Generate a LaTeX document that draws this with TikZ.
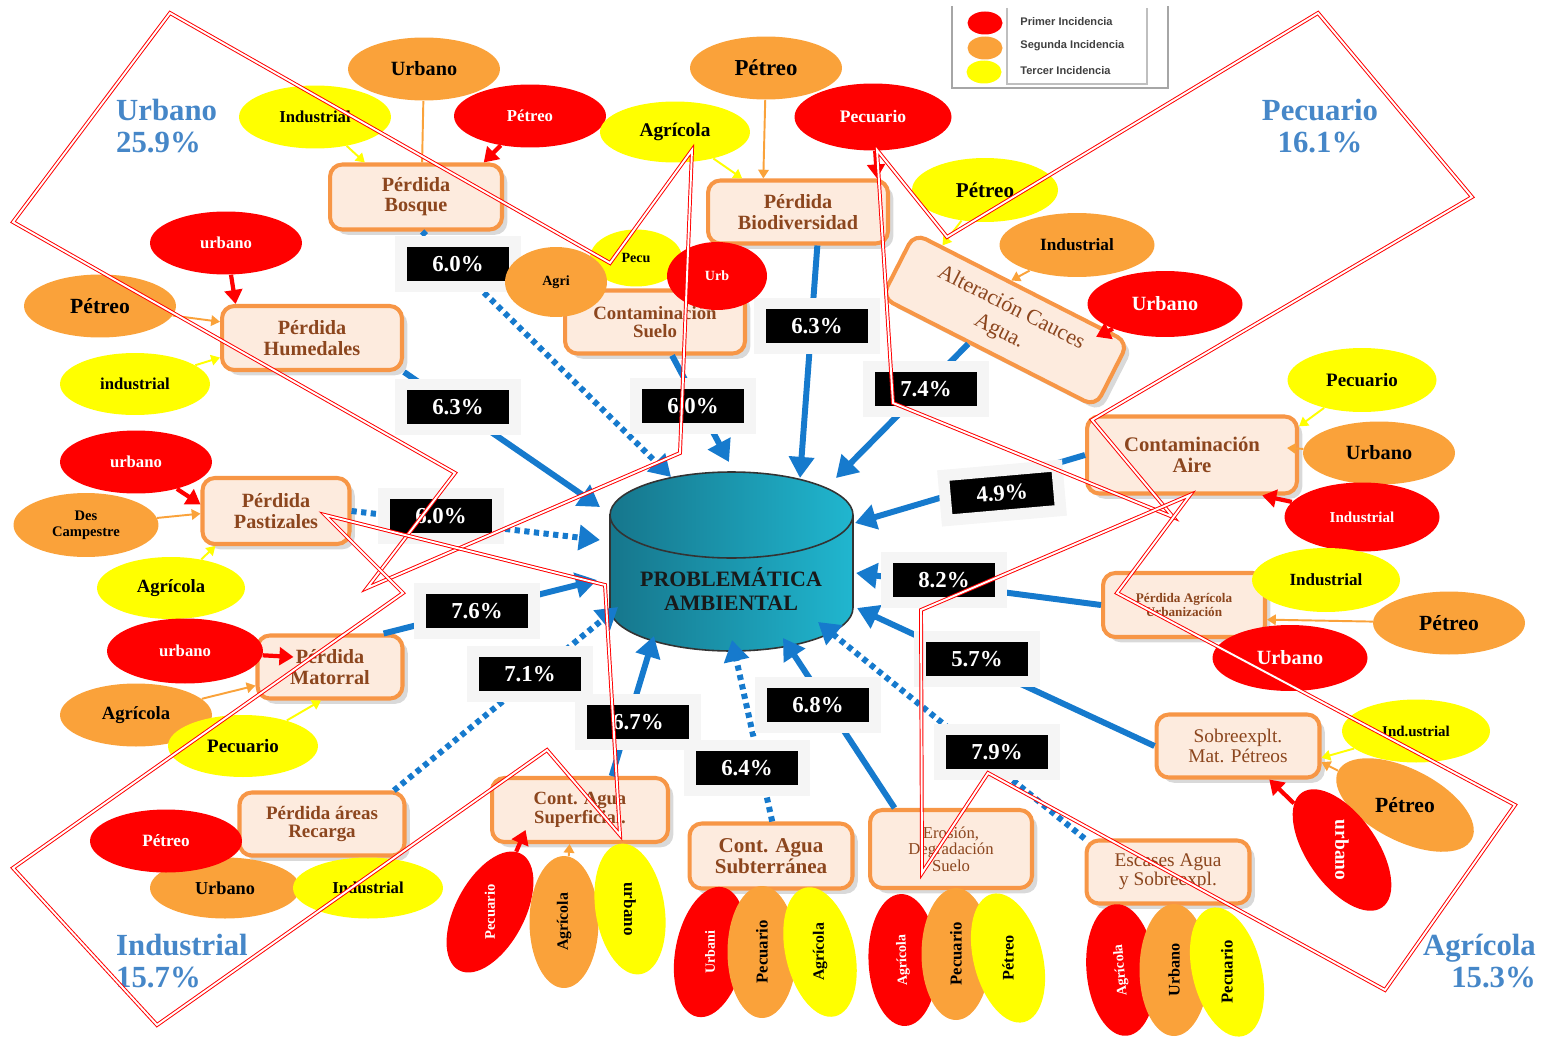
\documentclass[tikz,border=0pt]{standalone}
\usepackage{fontspec}
\setmainfont{Liberation Serif}
\newfontfamily\legfont{Liberation Sans}
\usepackage{graphicx}
\usetikzlibrary{shapes.geometric,arrows.meta,shadows,calc}

\definecolor{rojoE}{RGB}{255,0,0}
\definecolor{naranjaE}{RGB}{250,162,58}
\definecolor{amarilloE}{RGB}{255,255,0}
\definecolor{bordeC}{RGB}{247,150,70}
\definecolor{fondoC}{RGB}{253,235,222}
\definecolor{cafe}{RGB}{140,70,30}
\definecolor{azulF}{RGB}{22,122,205}
\definecolor{azulT}{RGB}{70,135,200}
\definecolor{cilO}{RGB}{22,118,140}
\definecolor{cilC}{RGB}{32,182,207}

\newcommand{\tam}[1]{\fontsize{#1}{#1}\selectfont}

\tikzset{
  caja/.style={draw=bordeC, line width=2.3pt, rounded corners=7pt, fill=fondoC, text=cafe,
    align=center, inner sep=1pt, font=\bfseries\tam{11.5},
    drop shadow={shadow xshift=3pt, shadow yshift=-3pt, opacity=0.3}},
  elip/.style={ellipse, inner sep=0pt, minimum width=3.04cm, minimum height=1.26cm, align=center},
  rojo/.style={elip, fill=rojoE, text=white, font=\bfseries\tam{9.5}},
  naranja/.style={elip, fill=naranjaE, text=black, font=\bfseries\tam{11.5}},
  amarillo/.style={elip, fill=amarilloE, text=black, font=\bfseries\tam{9.5}},
  vert/.style={minimum width=2.64cm, minimum height=1.38cm},
  pct/.style={fill=black, draw=black!4, line width=6.5pt, text=white, inner sep=0pt,
    minimum width=2.28cm, minimum height=0.9cm, font=\bfseries\tam{13}},
  flujo/.style={draw=azulF, line width=3.4pt, -{Triangle[length=12pt,width=14pt]}},
  punteado/.style={flujo, dash pattern=on 3pt off 2.5pt},
  flR/.style={draw=rojoE, line width=2.4pt, -{Triangle[length=8pt,width=10pt]}},
  flN/.style={draw=naranjaE, line width=1.1pt, -{Triangle[length=5pt,width=6pt]}},
  flA/.style={draw=amarilloE, line width=1.1pt, -{Triangle[length=5pt,width=6pt]}},
  etiq/.style={text=azulT, font=\bfseries\fontsize{17.5}{18.5}\selectfont},
  leyenda/.style={font=\legfont\bfseries\tam{6.3}, text=black!75, inner sep=0pt, anchor=west},
  marca/.style={draw=red, double=white, double distance=1.1pt, line width=0.55pt}
}

\begin{document}
\begin{tikzpicture}[x=0.02cm, y=-0.02cm]
  \useasboundingbox (0,0) rectangle (1547,1037);

  \shadedraw[left color=cilO, right color=cilC, draw=black!80, line width=0.9pt]
    (610,515) -- (610,608) arc[start angle=180, end angle=360, x radius=2.43cm, y radius=0.86cm]
    -- (853,515) arc[start angle=0, end angle=180, x radius=2.43cm, y radius=0.86cm] -- cycle;
  \draw[black!80, line width=0.9pt] (610,515) arc[start angle=180, end angle=360, x radius=2.43cm, y radius=0.86cm];
  \node[font=\bfseries\fontsize{12.5}{13.7}\selectfont, align=center, text=black!90] (prob) at (731,589) {PROBLEMÁTICA\\AMBIENTAL};

  \coordinate (cBosque) at (671,477);
  \coordinate (cHumedales) at (600,507);
  \coordinate (cSuelo) at (729,462);
  \coordinate (cBiodiv) at (800,478);
  \coordinate (cCauces) at (836,478);
  \coordinate (cAire) at (855,523);
  \coordinate (cPastizales) at (600,540);
  \coordinate (cAgrourb) at (856,573);
  \coordinate (cMatorral) at (597,580);
  \coordinate (cSobreexp) at (857,608);
  \coordinate (cRecarga) at (618,607);
  \coordinate (cSuperf) at (654,636);
  \coordinate (cSubterr) at (732,640);
  \coordinate (cErosion) at (783,638);
  \coordinate (cEscases) at (818,622);

  \node[caja, minimum width=3.44cm, minimum height=1.3cm] (bosque) at (416,197) {Pérdida\\Bosque};
  \node[caja, minimum width=3.6cm, minimum height=1.26cm] (biodiv) at (798,212) {Pérdida\\Biodiversidad};
  \node[caja, minimum width=3.6cm, minimum height=1.26cm, font=\bfseries\tam{10.7}] (suelo) at (655,322) {Contaminación\\Suelo};
  \node[caja, rotate=-27, minimum width=4.8cm, minimum height=1.44cm, font=\fontsize{12.5}{15}\selectfont] (cauces) at (1005,320) {Alteración Cauces\\Agua.};
  \node[caja, minimum width=3.6cm, minimum height=1.28cm] (humedales) at (312,338) {Pérdida\\Humedales};
  \node[caja, minimum width=4.2cm, minimum height=1.54cm, font=\bfseries\tam{11.8}] (aire) at (1192,455) {Contaminación\\Aire};
  \node[caja, minimum width=2.94cm, minimum height=1.32cm] (pastizales) at (276,511) {Pérdida\\Pastizales};
  \node[caja, minimum width=3.24cm, minimum height=1.28cm, font=\bfseries\tam{7.5}] (agrourb) at (1184,605) {Pérdida Agrícola\\Urbanización};
  \node[caja, minimum width=2.9cm, minimum height=1.26cm] (matorral) at (330,667) {Pérdida\\Matorral};
  \node[caja, minimum width=3.26cm, minimum height=1.26cm, font=\tam{11}] (sobreexp) at (1238,746) {Sobreexplt.\\Mat. Pétreos};
  \node[caja, minimum width=3.3cm, minimum height=1.26cm, font=\bfseries\tam{10.8}] (recarga) at (322,824) {Pérdida áreas\\Recarga};
  \node[caja, minimum width=3.52cm, minimum height=1.28cm, font=\bfseries\tam{10.6}] (superf) at (580,810) {Cont. Agua\\Superficial.};
  \node[caja, minimum width=3.26cm, minimum height=1.3cm, font=\bfseries\tam{12}] (subterr) at (771,856) {Cont. Agua\\Subterránea};
  \node[caja, minimum width=3.24cm, minimum height=1.56cm, font=\tam{9.5}] (erosion) at (951,849) {Erosión,\\Degradación\\Suelo};
  \node[caja, minimum width=3.26cm, minimum height=1.26cm, font=\tam{11}] (escases) at (1168,872) {Escases Agua\\y Sobreexpl.};

  \draw[punteado] (bosque.-80) -- (cBosque);
  \draw[flujo] (humedales.south east) -- (cHumedales);
  \draw[flujo] (suelo.-63) -- (cSuelo);
  \draw[flujo] (biodiv.-60) -- (cBiodiv);
  \draw[flujo] (cauces.-120) -- (cCauces);
  \draw[flujo] (aire.west) -- (cAire);
  \draw[punteado] (pastizales.east) -- (cPastizales);
  \draw[flujo] (agrourb.west) -- (cAgrourb);
  \draw[flujo] (matorral.32) -- (cMatorral);
  \draw[flujo] (sobreexp.west) -- (cSobreexp);
  \draw[punteado] (recarga.25) -- (cRecarga);
  \draw[flujo] (superf.47) -- (cSuperf);
  \draw[punteado] (subterr.88) -- (cSubterr);
  \draw[flujo] (erosion.144) -- (cErosion);
  \draw[punteado] (escases.north west) -- (cEscases);

  \node[pct] (pBosque) at (458,264) {6.0\%};
  \node[pct] (pHumedales) at (458,407) {6.3\%};
  \node[pct] (pSuelo) at (693,406) {6.0\%};
  \node[pct] (pBiodiv) at (817,326) {6.3\%};
  \node[pct] (pCauces) at (926,389) {7.4\%};
  \node[pct, rotate=5] (pAire) at (1002,493) {4.9\%};
  \node[pct] (pPastizales) at (441,516) {6.0\%};
  \node[pct] (pAgrourb) at (944,580) {8.2\%};
  \node[pct] (pMatorral) at (477,611) {7.6\%};
  \node[pct] (pSobreexp) at (977,659) {5.7\%};
  \node[pct] (pRecarga) at (530,674) {7.1\%};
  \node[pct] (pSuperf) at (638,722) {6.7\%};
  \node[pct] (pErosion) at (818,705) {6.8\%};
  \node[pct] (pSubterr) at (747,768) {6.4\%};
  \node[pct] (pEscases) at (997,752) {7.9\%};

  \node[naranja] (bosqueU) at (424,69) {Urbano};
  \node[amarillo] (bosqueI) at (315,117) {Industrial};
  \node[rojo] (bosqueP) at (530,116) {Pétreo};
  \draw[flN, -] (bosqueU) -- (bosque.80);
  \draw[flA] (bosqueI) -- (bosque.146);
  \draw[flR] (bosqueP) -- (bosque.27);

  \node[naranja, font=\bfseries\tam{13}] (biodivP) at (766,68) {Pétreo};
  \node[amarillo, font=\bfseries\tam{11}, minimum width=3cm, minimum height=1.22cm] (biodivA) at (675,132) {Agrícola};
  \node[rojo, font=\bfseries\tam{10}, minimum width=3.14cm, minimum height=1.34cm] (biodivC) at (873,117) {Pecuario};
  \draw[flN] (biodivP) -- (biodiv.136);
  \draw[flA] (biodivA) -- (biodiv.149);
  \draw[flR] (biodivC) -- (biodiv.23);

  \node[amarillo, font=\bfseries\tam{8}, minimum width=1.84cm, minimum height=1.14cm] (sueloP) at (636,258) {Pecu};
  \node[naranja, font=\bfseries\tam{8}, minimum width=2.04cm, minimum height=1.4cm] (sueloA) at (556,282) {Agri};
  \node[rojo, font=\bfseries\tam{8}, minimum width=2cm, minimum height=1.36cm] (sueloU) at (717,276) {Urb};

  \node[amarillo, font=\bfseries\tam{12}, minimum width=2.92cm, minimum height=1.28cm] (caucesP) at (985,190) {Pétreo};
  \node[naranja, font=\bfseries\tam{9.8}, minimum width=3.1cm, minimum height=1.28cm] (caucesI) at (1077,245) {Industrial};
  \node[rojo, font=\bfseries\tam{11.5}, minimum width=3.1cm, minimum height=1.32cm] (caucesU) at (1165,304) {Urbano};
  \draw[flA] (caucesP) -- (cauces.157);
  \draw[flN] (caucesI) -- (cauces.108);
  \draw[flR] (caucesU) -- ($(cauces.23)+(-6,10)$);

  \node[rojo] (humU) at (226,243) {urbano};
  \node[naranja, font=\bfseries\tam{12.3}] (humP) at (100,306) {Pétreo};
  \node[amarillo, minimum width=3cm, minimum height=1.24cm] (humI) at (135,384) {industrial};
  \draw[flR] (humU) -- (humedales.156);
  \draw[flN] (humP) -- (humedales.170);
  \draw[flA] (humI) -- (humedales.-168);

  \node[amarillo, font=\bfseries\tam{10.8}, minimum width=2.98cm, minimum height=1.28cm] (aireP) at (1362,380) {Pecuario};
  \node[naranja] (aireU) at (1379,453) {Urbano};
  \node[rojo, font=\bfseries\tam{8.6}, minimum width=3.1cm, minimum height=1.38cm] (aireI) at (1362,517) {Industrial};
  \draw[flA] (aireP) -- (aire.15);
  \draw[flN] (aireU) -- ($(aire.east)+(-12,-7)$);
  \draw[flR] (aireI) -- (aire.-30);

  \node[rojo] (pasU) at (136,462) {urbano};
  \node[naranja, font=\bfseries\fontsize{8.3}{9}\selectfont, minimum width=2.9cm, minimum height=1.28cm] (pasD) at (86,525) {Des\\Campestre};
  \node[amarillo, font=\bfseries\tam{10.6}, minimum width=2.96cm, minimum height=1.24cm] (pasA) at (171,588) {Agrícola};
  \draw[flR] (pasU) -- (pastizales.175);
  \draw[flN] (pasD) -- (pastizales.182);
  \draw[flA] (pasA) -- (pastizales.-150);

  \node[amarillo, font=\bfseries\tam{9.7}, minimum width=2.96cm, minimum height=1.28cm] (agrI) at (1326,580) {Industrial};
  \node[naranja, font=\bfseries\tam{12.3}] (agrP) at (1449,623) {Pétreo};
  \node[rojo, font=\bfseries\tam{11.5}, minimum width=3.1cm, minimum height=1.32cm] (agrU) at (1290,658) {Urbano};
  \draw[flN] (agrP) -- (agrourb.-10);

  \node[rojo, minimum width=3.12cm, minimum height=1.3cm] (matU) at (185,651) {urbano};
  \node[naranja, font=\bfseries\tam{10.6}] (matA) at (136,715) {Agrícola};
  \node[amarillo, font=\bfseries\tam{10.8}, minimum width=3cm, minimum height=1.24cm] (matP) at (243,746) {Pecuario};
  \draw[flR] (matU) -- ($(matorral.west)+(38,-10)$);
  \draw[flN] (matA) -- (matorral.-166);
  \draw[flA] (matP) -- (matorral.-105);

  \node[amarillo, font=\bfseries\tam{8.5}, minimum width=2.96cm, minimum height=1.26cm] (sobI) at (1416,731) {Ind.ustrial};
  \node[naranja, rotate=-27, font=\bfseries\tam{12.3}, minimum width=3cm, minimum height=1.44cm] (sobP) at (1405,805) {\rotatebox{27}{Pétreo}};
  \node[rojo, rotate=-55, font=\bfseries\tam{11}, minimum width=2.8cm, minimum height=1.4cm] (sobU) at (1342,850) {\rotatebox{-35}{urbano}};
  \draw[flA] (sobI) -- (sobreexp.-8);
  \draw[flN] (sobP) -- (sobreexp.-11);
  \draw[flR] (sobU) -- (sobreexp.-47);

  \node[naranja, font=\bfseries\tam{10.4}, minimum width=3cm, minimum height=1.22cm] (recU) at (225,888) {Urbano};
  \node[rojo, font=\bfseries\tam{9.8}] (recP) at (166,841) {Pétreo};
  \node[amarillo, minimum width=3cm, minimum height=1.22cm] (recI) at (368,888) {Industrial};

  \node[rojo, vert, rotate=62, font=\bfseries\tam{8.3}] (supP) at (490,912) {\rotatebox{28}{Pecuario}};
  \node[naranja, vert, rotate=90, font=\bfseries\tam{9}] (supA) at (564,922) {Agrícola};
  \node[amarillo, vert, rotate=-81, font=\bfseries\tam{9.7}] (supU) at (630,909) {\rotatebox{-9}{urbano}};
  \draw[flR] (supP) -- ($(superf.-148)+(0,-14)$);
  \draw[flN] (supA) -- (superf.-107);

  \node[rojo, vert, rotate=79, font=\bfseries\tam{8}] (subU) at (710,952) {\rotatebox{11}{Urbani}};
  \node[naranja, vert, rotate=90, font=\bfseries\tam{9.5}] (subP) at (762,952) {Pecuario};
  \node[amarillo, vert, rotate=103, font=\bfseries\tam{9}] (subA) at (820,952) {\rotatebox{-13}{Agrícola}};

  \node[rojo, vert, rotate=92, font=\bfseries\tam{8}] (eroA) at (903,960) {Agrícola};
  \node[naranja, vert, rotate=90, font=\bfseries\tam{9.5}] (eroP) at (956,954) {Pecuario};
  \node[amarillo, vert, rotate=104, font=\bfseries\tam{9.2}] (eroT) at (1008,958) {\rotatebox{-14}{Pétreo}};

  \node[rojo, vert, rotate=95, font=\bfseries\tam{8}] (escA) at (1121,970) {Agrícola};
  \node[naranja, vert, rotate=90, font=\bfseries\tam{9.2}] (escU) at (1174,970) {Urbano};
  \node[amarillo, vert, rotate=104, font=\bfseries\tam{9.5}] (escP) at (1227,972) {\rotatebox{-14}{Pecuario}};

  \node[etiq, align=left, anchor=west] (tUrbano) at (110,126) {Urbano\\25.9\%};
  \node[etiq, align=center] (tPecuario) at (1320,126) {Pecuario\\16.1\%};
  \node[etiq, align=left, anchor=west] (tIndustrial) at (110,961) {Industrial\\15.7\%};
  \node[etiq, align=right, anchor=east] (tAgricola) at (1542,961) {Agrícola\\15.3\%};

  \draw[gray!70, line width=0.9pt] (952,6) -- (952,88) -- (1168,88) -- (1168,6);
  \draw[gray!50, line width=0.6pt] (1007,8) -- (1007,84) -- (1147,84) -- (1147,8);
  \node[ellipse, fill=rojoE, minimum width=0.7cm, minimum height=0.46cm, inner sep=0pt] (legR) at (985,23) {};
  \node[ellipse, fill=naranjaE, minimum width=0.7cm, minimum height=0.46cm, inner sep=0pt] (legN) at (985,48) {};
  \node[ellipse, fill=amarilloE, minimum width=0.7cm, minimum height=0.46cm, inner sep=0pt] (legA) at (984,72) {};
  \node[leyenda] (legRt) at (1020,22) {Primer Incidencia};
  \node[leyenda] (legNt) at (1020,46) {Segunda Incidencia};
  \node[leyenda] (legAt) at (1020,71) {Tercer Incidencia};

  \draw[marca] (170,13) -- (610,263) -- (692,150) -- (680,453) -- (367,588) -- (455,473) -- (13,222) -- cycle;
  \draw[marca] (1318,13) -- (1472,197) -- (1092,420) -- (1173,517) -- (893,403) -- (877,150) -- (947,237) -- cycle;
  \draw[marca] (13,868) -- (157,1025) -- (547,750) -- (620,835) -- (605,585) -- (325,515) -- (403,593) -- cycle;
  \draw[marca] (921,610) -- (1190,495) -- (1117,593) -- (1515,805) -- (1385,990) -- (988,773) -- (922,873) -- cycle;
\end{tikzpicture}
\end{document}
